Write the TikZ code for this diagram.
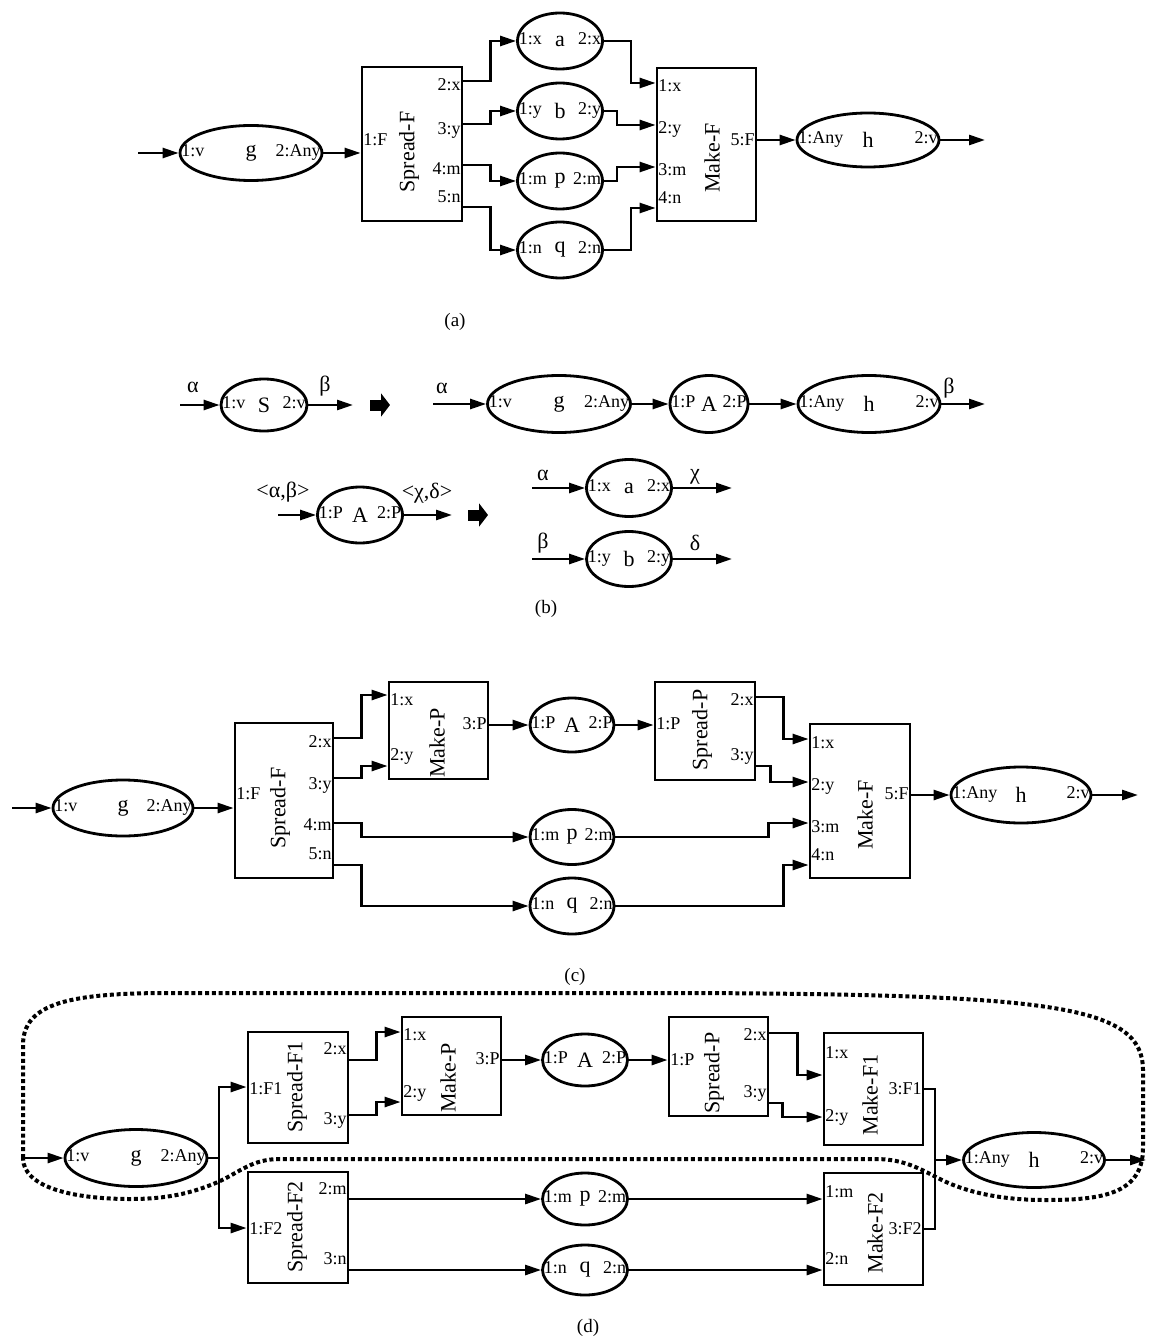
\documentclass[tikz,border=0pt]{standalone}
\usepackage{fontspec}
\setmainfont{Liberation Serif}
\usetikzlibrary{shapes.geometric,arrows.meta}

\begin{document}
\begin{tikzpicture}[x=1pt,y=-1pt,>={Triangle[length=16pt,width=10pt]}]
    \tikzset{el/.style={ellipse,draw,line width=2.8pt,inner sep=0pt},
             bx/.style={draw,line width=2.8pt,inner sep=0pt},
             port/.style={font=\fontsize{18}{18}\selectfont,inner sep=2.5pt,text height=0.68em,text depth=0.2em},
             nm/.style={font=\fontsize{22}{22}\selectfont,inner sep=0pt},
             gk/.style={font=\fontsize{22}{22}\selectfont,inner sep=0pt},
             capt/.style={font=\fontsize{19}{19}\selectfont,inner sep=0pt},
             ln/.style={line width=2.6pt},
             ar/.style={->,line width=2.6pt},
             fat/.style={line width=11pt,-{Triangle[length=9pt,width=23pt]}},
             dotloop/.style={line width=4pt,dash pattern=on 4pt off 2.8pt}}
    \useasboundingbox (0,0) rectangle (1148,1337);
    \foreach \n/\x/\y/\w/\h/\pl/\fn/\pr in {
        ga/251/153/142/55/1:v/g/2:Any, ea/560/41/85/56/1:x/a/2:x, eb/560/111/85/56/1:y/b/2:y,
        ep/560/181/85/56/1:m/p/2:m, eq/560/250/85/56/1:n/q/2:n, ha/868/140/142/54/1:Any/h/2:v,
        sb/264/405/86/52/1:v/S/2:v, gb/559/404/143/57/1:v/g/2:Any, Ab/709/404/78/57/1:P/A/2:P,
        hb/869/404/142/57/1:Any/h/2:v, Ab2/360/515/85/56/1:P/A/2:P, ab/629/488/85/57/1:x/a/2:x,
        bb/629/559/85/55/1:y/b/2:y,
        gc/123/808/140/56/1:v/g/2:Any, Ac/572/725/84/54/1:P/A/2:P, pc/572/837/84/55/1:m/p/2:m,
        qc/572/906/84/56/1:n/q/2:n, hc/1021/795/140/56/1:Any/h/2:v,
        gd/136/1158/142/57/1:v/g/2:Any, Ad/585/1060/85/52/1:P/A/2:P, pd/585/1199/85/52/1:m/p/2:m,
        qd/585/1270/85/50/1:n/q/2:n, hd/1034/1160/141/55/1:Any/h/2:v}
    {
        \node[el,minimum width=\w pt,minimum height=\h pt] (\n) at (\x,\y) {};
        \node[port,anchor=west,yshift=-1.5pt] (\n-l) at (\n.west) {\pl};
        \node[nm] (\n-c) at (\n.center) {\fn};
        \node[port,anchor=east,yshift=-1.5pt] (\n-r) at (\n.east) {\pr};
    }
    \foreach \n/\x/\y/\w/\h in {sfa/412/144/100/154, mfa/706.5/144.5/99/153,
        sfc/284/800.5/98/155, mpc/438.5/730.5/99/97, spc/705/731/100/98, mfc/860/801/100/154,
        sf1/298/1087.5/100/111, mpd/451.5/1066/99/98, spd/718.5/1066.5/99/99, mf1/873.5/1089/99/112,
        sf2/298/1227.5/100/111, mf2/873.5/1229/99/112}
        \node[bx,minimum width=\w pt,minimum height=\h pt] (\n) at (\x,\y) {};
    \foreach \n/\x/\y/\tx in {sfa/409/152/Spread-F, mfa/712/158/Make-F, sfc/280/808/Spread-F,
        mpc/437/743/Make-P, spc/702/730/Spread-P, mfc/865/815/Make-F, sf1/297/1087/Spread-F1,
        mpd/448/1078/Make-P, spd/714/1073/Spread-P, mf1/870/1095/Make-F1, sf2/297/1227/Spread-F2,
        mf2/875/1233/Make-F2}
        \node[nm,rotate=90] (\n-t) at (\x,\y) {\tx};
    \foreach \bo/\tx/\yy/\side [count=\i] in {
        sfa/1:F/143/west, sfa/2:x/88/east, sfa/3:y/132/east, sfa/4:m/172/east, sfa/5:n/200/east,
        mfa/1:x/89/west, mfa/2:y/131/west, mfa/3:m/173/west, mfa/4:n/201/west, mfa/5:F/143/east,
        sfc/1:F/797/west, sfc/2:x/745/east, sfc/3:y/787/east, sfc/4:m/828/east, sfc/5:n/857/east,
        mpc/1:x/703/west, mpc/2:y/758/west, mpc/3:P/727/east,
        spc/1:P/727/west, spc/2:x/703/east, spc/3:y/758/east,
        mfc/1:x/746/west, mfc/2:y/788/west, mfc/3:m/830/west, mfc/4:n/858/west, mfc/5:F/797/east,
        sf1/1:F1/1092/west, sf1/2:x/1052/east, sf1/3:y/1122/east,
        mpd/1:x/1038/west, mpd/2:y/1095/west, mpd/3:P/1062/east,
        spd/1:P/1063/west, spd/2:x/1038/east, spd/3:y/1095/east,
        mf1/1:x/1056/west, mf1/2:y/1119/west, mf1/3:F1/1092/east,
        sf2/1:F2/1232/west, sf2/2:m/1192/east, sf2/3:n/1262/east,
        mf2/1:m/1195/west, mf2/2:n/1262/west, mf2/3:F2/1232/east}
        \node[port,anchor=\side] (pl\i) at (\bo.\side |- 0,\yy) {\tx};
    \foreach \n/\x/\y/\tx in {gl1/193/387/α, gl2/325/386/β, gl3/442/388/α, gl4/949/388/β,
        gl5/283/492/{<α,β>}, gl6/427/493/{<χ,δ>}, gl7/543/475/α, gl8/695/477/χ, gl9/543/543/β, gl10/695/543/δ}
        \node[gk] (\n) at (\x,\y) {\tx};
    \node[capt] (cpa) at (455,322) {(a)};
    \node[capt] (cpb) at (546,609) {(b)};
    \node[capt] (cpc) at (575,977) {(c)};
    \node[capt] (cpd) at (588,1328) {(d)};
    \coordinate (ina) at (138,153); \coordinate (outa) at (985,140);
    \coordinate (ib1) at (180,405); \coordinate (ob1) at (353,405); \coordinate (fb1) at (370,405);
    \coordinate (ib2) at (433,404); \coordinate (ob2) at (985,404);
    \coordinate (ib3) at (278,515); \coordinate (ob3) at (452,515); \coordinate (fb2) at (468,515);
    \coordinate (ib4) at (532,488); \coordinate (ob4) at (732,488);
    \coordinate (ib5) at (532,559); \coordinate (ob5) at (732,559);
    \coordinate (inc) at (12,808); \coordinate (outc) at (1138,795);
    \coordinate (ind) at (23,1158); \coordinate (spl) at (219,1158);
    \coordinate (mrg) at (935,1160); \coordinate (outd) at (1146,1160);
    \draw[ar] (ina) -- (ga.west); \draw[ar] (ga.east) -- (sfa.west |- ga.east);
    \foreach \y/\e in {81/ea,124/eb,165/ep,207/eq} \draw[ar] (sfa.east |- 0,\y) -- ++(27,0) |- (\e.west);
    \foreach \e/\d/\y in {ea/27/83,eb/13/125,ep/13/167,eq/27/208} \draw[ar] (\e.east) -- ++(\d,0) |- (mfa.west |- 0,\y);
    \draw[ar] (mfa.east |- ha.west) -- (ha.west); \draw[ar] (ha.east) -- (outa);
    \draw[ar] (ib1) -- (sb.west); \draw[ar] (sb.east) -- (ob1); \draw[fat] (fb1) -- ++(20,0);
    \draw[ar] (ib2) -- (gb.west); \draw[ar] (gb.east) -- (Ab.west); \draw[ar] (Ab.east) -- (hb.west); \draw[ar] (hb.east) -- (ob2);
    \draw[ar] (ib3) -- (Ab2.west); \draw[ar] (Ab2.east) -- (ob3); \draw[fat] (fb2) -- ++(20,0);
    \draw[ar] (ib4) -- (ab.west); \draw[ar] (ab.east) -- (ob4);
    \draw[ar] (ib5) -- (bb.west); \draw[ar] (bb.east) -- (ob5);
    \draw[ar] (inc) -- (gc.west); \draw[ar] (gc.east) -- (sfc.west |- gc.east);
    \foreach \y/\t in {738/695,778/766} \draw[ar] (sfc.east |- 0,\y) -- ++(27,0) |- (mpc.west |- 0,\t);
    \foreach \y/\e in {823/pc,865/qc} \draw[ar] (sfc.east |- 0,\y) -- ++(27,0) |- (\e.west);
    \draw[ar] (mpc.east |- Ac.west) -- (Ac.west); \draw[ar] (Ac.east) -- (spc.west |- Ac.east);
    \foreach \y/\d/\t in {697/27/739,766/14/782} \draw[ar] (spc.east |- 0,\y) -- ++(\d,0) |- (mfc.west |- 0,\t);
    \foreach \e/\d/\t in {pc/153/823,qc/168/865} \draw[ar] (\e.east) -- ++(\d,0) |- (mfc.west |- 0,\t);
    \draw[ar] (mfc.east |- hc.west) -- (hc.west); \draw[ar] (hc.east) -- (outc);
    \draw[ar] (ind) -- (gd.west); \draw[ln] (gd.east) -- (spl);
    \foreach \b/\y in {sf1/1087,sf2/1228} \draw[ar] (spl) |- (\b.west |- 0,\y);
    \foreach \y/\t in {1060/1032,1115/1102} \draw[ar] (sf1.east |- 0,\y) -- ++(27,0) |- (mpd.west |- 0,\t);
    \draw[ar] (mpd.east |- Ad.west) -- (Ad.west); \draw[ar] (Ad.east) -- (spd.west |- Ad.east);
    \foreach \y/\d/\t in {1033/28/1075,1103/13/1117} \draw[ar] (spd.east |- 0,\y) -- ++(\d,0) |- (mf1.west |- 0,\t);
    \foreach \e in {pd,qd} {\draw[ar] (sf2.east |- \e.west) -- (\e.west); \draw[ar] (\e.east) -- (mf2.west |- \e.east);}
    \draw[ln] (mf1.east |- 0,1089) -| (mrg) |- (mf2.east |- 0,1229);
    \draw[ar] (mrg) -- (hd.west); \draw[ar] (hd.east) -- (outd);
    \draw[dotloop] (23,1158) -- (23,1045) .. controls (23,1003) and (70,993) .. (170,993) -- (700,993)
        .. controls (1050,995) and (1143,1005) .. (1143,1070) -- (1143,1148)
        .. controls (1143,1195) and (1100,1200) .. (1045,1200) .. controls (995,1200) and (960,1190) .. (936,1177)
        .. controls (915,1166) and (900,1159) .. (875,1159) -- (280,1159)
        .. controls (252,1159) and (240,1172) .. (218,1182) .. controls (190,1194) and (165,1199) .. (130,1199)
        .. controls (75,1199) and (23,1188) .. (23,1158) -- cycle;
\end{tikzpicture}
\end{document}
